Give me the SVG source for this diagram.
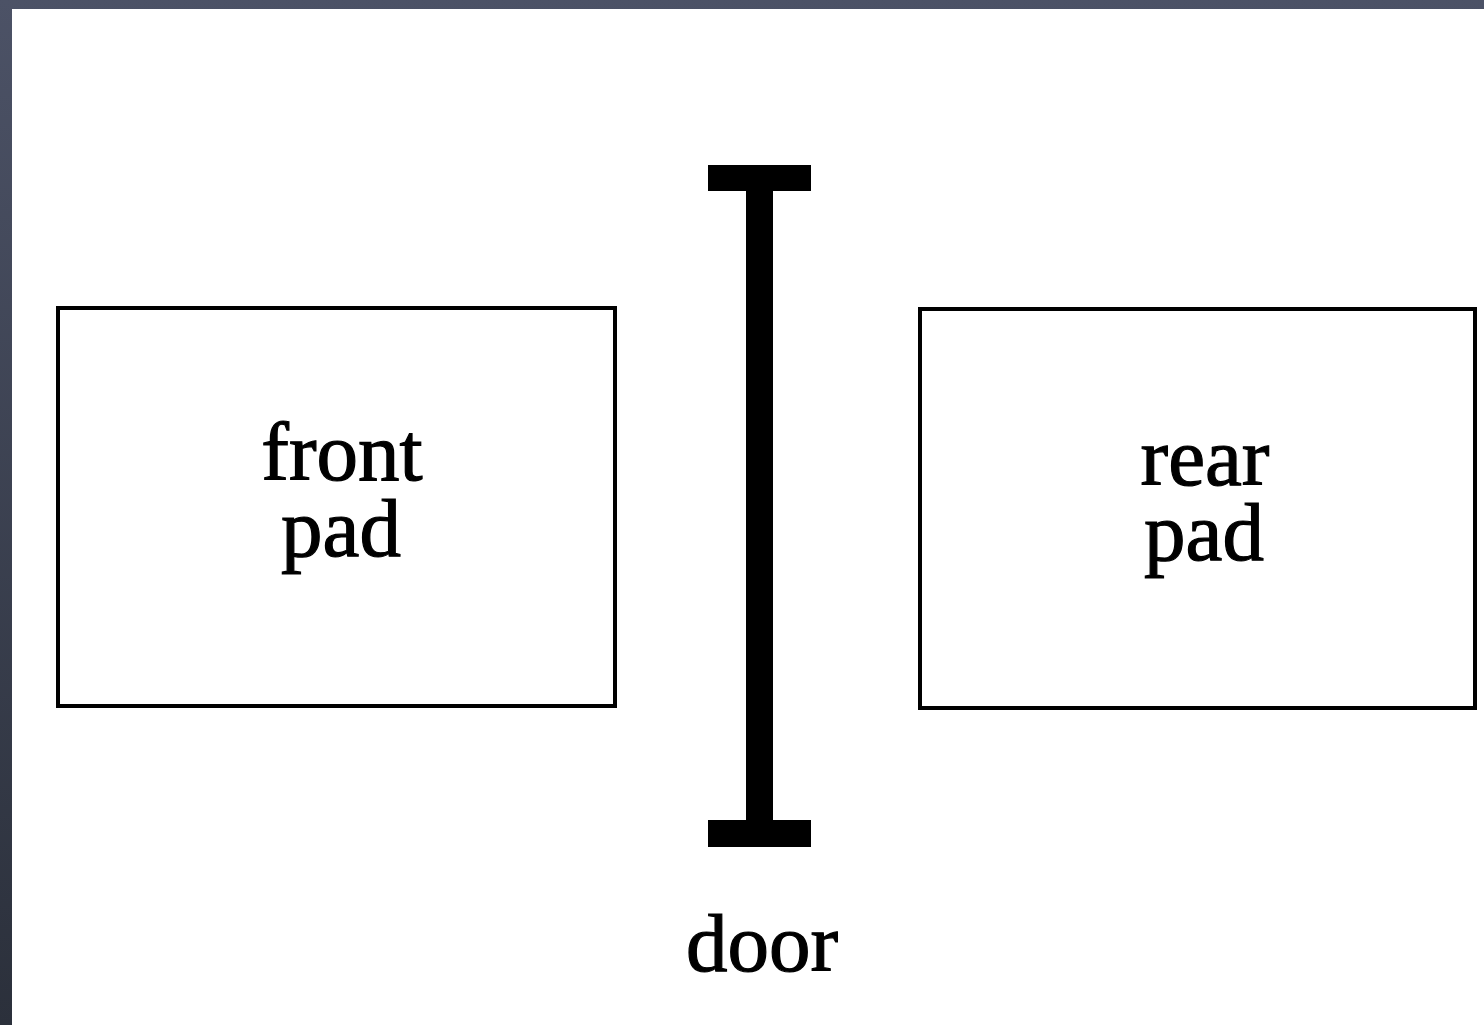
<svg xmlns="http://www.w3.org/2000/svg" width="1484" height="1025" viewBox="0 0 1484 1025">
  <defs>
    <linearGradient id="slate" x1="0" y1="0" x2="0" y2="1">
      <stop offset="0" stop-color="#4c5266"/>
      <stop offset="1" stop-color="#2b303b"/>
    </linearGradient>
    <style>
      .pad { fill: #ffffff; stroke: #000000; stroke-width: 4; }
      .lbl { font-family: "Liberation Serif", "DejaVu Serif", serif; font-size: 83px; fill: #000000; stroke: #000000; stroke-width: 1.2; text-anchor: middle; }
      .bar { fill: #000000; }
    </style>
  </defs>

  <!-- backdrop and sheet -->
  <rect x="0" y="0" width="1484" height="1025" fill="url(#slate)"/>
  <rect x="12" y="9" width="1472" height="1016" fill="#ffffff"/>

  <!-- front pad -->
  <g id="front-pad">
    <rect class="pad" x="58" y="308" width="557" height="398"/>
    <text class="lbl" x="342" y="480">front</text>
    <text class="lbl" x="341" y="556">pad</text>
  </g>

  <!-- door: I-beam -->
  <g id="door">
    <rect class="bar" x="708" y="165" width="103" height="26"/>
    <rect class="bar" x="746" y="189" width="27" height="633"/>
    <rect class="bar" x="708" y="820" width="103" height="27"/>
    <text class="lbl" x="762" y="971">door</text>
  </g>

  <!-- rear pad -->
  <g id="rear-pad">
    <rect class="pad" x="920" y="309" width="555" height="399"/>
    <text class="lbl" x="1205" y="485">rear</text>
    <text class="lbl" x="1204" y="560">pad</text>
  </g>

  <g id="connectors"/>
</svg>
